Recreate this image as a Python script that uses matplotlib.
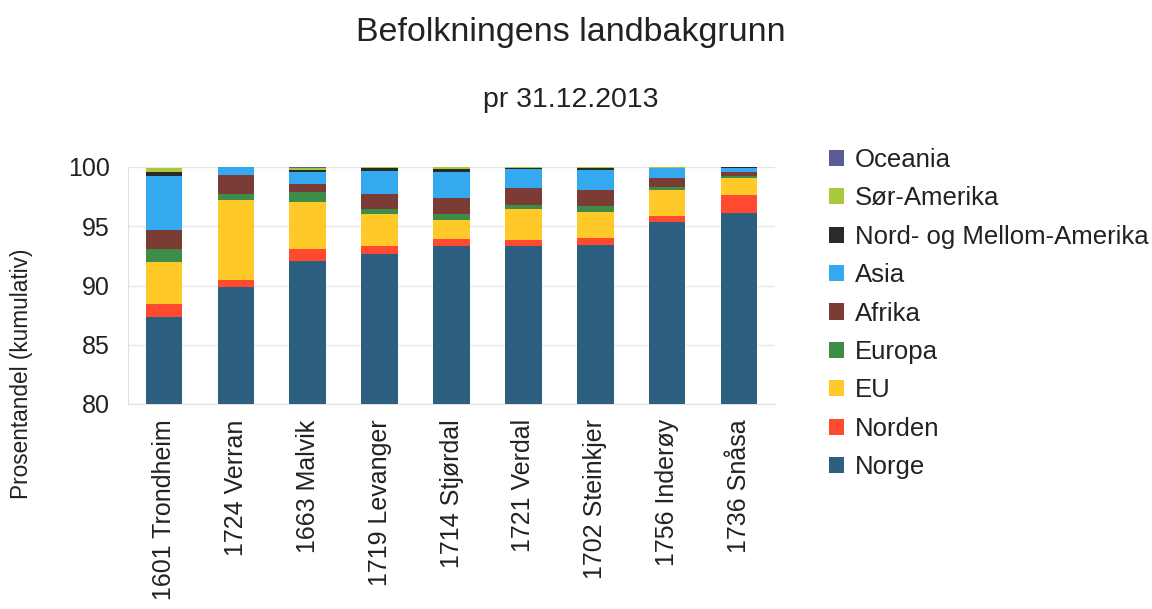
import matplotlib
matplotlib.use("Agg")
import matplotlib.pyplot as plt
from matplotlib.patches import Patch
import numpy as np

plt.rcParams['font.family'] = ['Liberation Sans', 'DejaVu Sans']

kommuner = ["1601 Trondheim", "1724 Verran", "1663 Malvik", "1719 Levanger",
            "1714 Stjørdal", "1721 Verdal", "1702 Steinkjer", "1756 Inderøy", "1736 Snåsa"]

norge    = [87.3, 89.9, 92.1, 92.7, 93.3, 93.3, 93.4, 95.4, 96.15]
norden   = [1.1, 0.6, 0.95, 0.6, 0.6, 0.55, 0.6, 0.5, 1.45]
eu       = [3.6, 6.7, 4.0, 2.7, 1.6, 2.6, 2.2, 2.2, 1.45]
europa   = [1.1, 0.5, 0.8, 0.45, 0.5, 0.35, 0.5, 0.25, 0.15]
afrika   = [1.6, 1.6, 0.7, 1.25, 1.35, 1.4, 1.35, 0.7, 0.35]
asia     = [4.5, 0.7, 1.0, 2.0, 2.25, 1.6, 1.7, 0.85, 0.4]
nord_mellom_amerika = [0.4, 0.0, 0.2, 0.2, 0.2, 0.1, 0.15, 0.05, 0.05]
sor_amerika = [0.3, 0.0, 0.2, 0.1, 0.2, 0.1, 0.1, 0.05, 0.0]
oceania  = [0.05, 0.0, 0.05, 0.0, 0.0, 0.0, 0.0, 0.0, 0.0]

series = [
    ("Norge", norge, "#2d5f80"),
    ("Norden", norden, "#ff4a30"),
    ("EU", eu, "#ffc929"),
    ("Europa", europa, "#3d8c48"),
    ("Afrika", afrika, "#7b3c36"),
    ("Asia", asia, "#35a9ef"),
    ("Nord- og Mellom-Amerika", nord_mellom_amerika, "#2a2a2a"),
    ("Sør-Amerika", sor_amerika, "#a9c93c"),
    ("Oceania", oceania, "#5b5b98"),
]

W, H = 1152, 609
fig = plt.figure(figsize=(11.52, 6.09), dpi=100)
ax = fig.add_axes([128/W, 1 - 404/H, (775-128)/W, (404-167)/H])

x = np.arange(len(kommuner))
bottom = np.zeros(len(kommuner))
for name, vals, col in series:
    v = np.array(vals)
    ax.bar(x, v, 0.51, bottom=bottom, color=col, label=name, zorder=3)
    bottom += v

ax.set_ylim(80, 100)
ax.set_xlim(-0.5, len(kommuner) - 0.5)
ax.set_yticks([80, 85, 90, 95, 100])
ax.set_xticks(x)
ax.set_xticklabels(kommuner, rotation=90, fontsize=18, color="#222222")
ax.tick_params(axis='y', labelsize=18, colors="#222222", length=0, pad=13)
ax.tick_params(axis='x', length=0, pad=11)
ax.yaxis.grid(True, color="#e6e6e6", linewidth=1, zorder=0)
for s in ["top", "right"]:
    ax.spines[s].set_visible(False)
ax.spines["left"].set_color("#e0e0e0")
ax.spines["bottom"].set_color("#e0e0e0")

fig.text(22/W, 1 - 374/H, "Prosentandel (kumulativ)", rotation=90, ha="center", va="center",
         fontsize=16.3, color="#222222")

fig.text(571/W, 1 - 33/H, "Befolkningens landbakgrunn", ha="center", va="center",
         fontsize=24.5, color="#222222")
fig.text(571/W, 1 - 100/H, "pr 31.12.2013", ha="center", va="center",
         fontsize=20.5, color="#222222")

handles = [Patch(facecolor=col, label=name) for name, _, col in series[::-1]]
fig.legend(handles=handles, loc="upper left", bbox_to_anchor=(829/W, 1 - 148/H),
           frameon=False, fontsize=18.5, handlelength=0.6, handleheight=0.6,
           handletextpad=0.4, labelspacing=0.56, borderpad=0, borderaxespad=0,
           labelcolor="#222222")

fig.savefig("out.png", dpi=100)
